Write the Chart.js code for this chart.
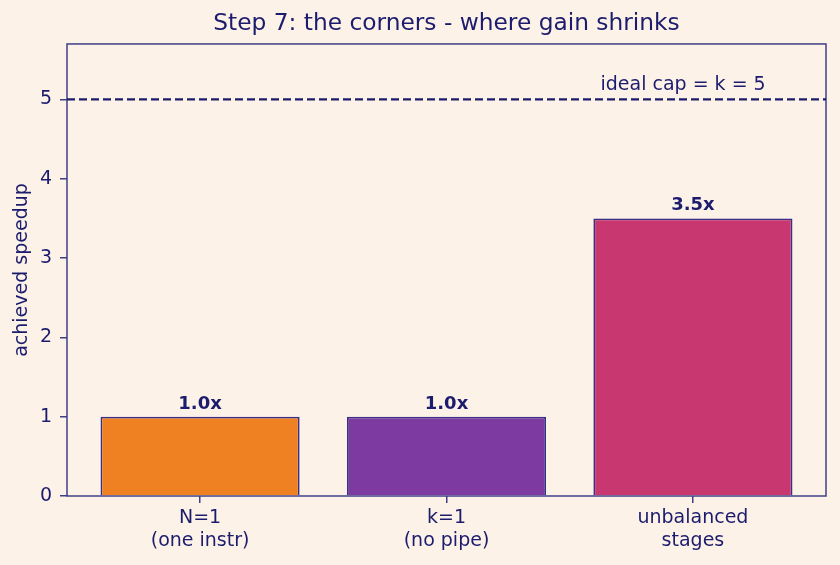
<!DOCTYPE html>
<html>
<head>
<meta charset="utf-8">
<script src="https://cdn.jsdelivr.net/npm/chart.js@4.4.0/dist/chart.umd.min.js"></script>
<style>
  html, body { margin: 0; padding: 0; background: #fdf2e7; }
  #wrap { width: 840px; height: 565px; }
</style>
</head>
<body>
<div id="wrap"><canvas id="myChart" width="840" height="565"></canvas></div>
<script>
// data
const categories = [['N=1', '(one instr)'], ['k=1', '(no pipe)'], ['unbalanced', 'stages']];
const speedups = [1.0, 1.0, 3.5];
const barColors = ['#f08122', '#7d3ba1', '#c8376f'];
const idealCap = 5;
const capLabel = 'ideal cap = k = 5';
const yTicks = [0, 1, 2, 3, 4, 5];

const navy = '#1c1c6e';
const frame = '#3f3f88';
const font = "'DejaVu Sans', sans-serif";

const xMin = -0.54, xMax = 2.54;

// outline of the plot box + labels on bars + cap label
const extras = {
  id: 'extras',
  beforeDatasetsDraw(chart) {
    const a = chart.chartArea, c = chart.ctx;
    c.save();
    c.strokeStyle = frame;
    c.lineWidth = 1.5;
    c.strokeRect(a.left, a.top, a.right - a.left, a.bottom - a.top);
    c.restore();
  },
  afterDatasetsDraw(chart) {
    const c = chart.ctx;
    const x = chart.scales.x, y = chart.scales.y;
    const meta = chart.getDatasetMeta(0);
    c.save();
    c.fillStyle = navy;
    c.textAlign = 'center';
    c.textBaseline = 'alphabetic';
    c.font = 'bold 18px ' + font;
    meta.data.forEach((bar, i) => {
      c.fillText(speedups[i].toFixed(1) + 'x', bar.x, bar.y - 8);
    });
    c.font = '19px ' + font;
    c.fillText(capLabel, x.getPixelForValue(1.96), y.getPixelForValue(idealCap) - 9);
    c.restore();
  }
};

const ctx = document.getElementById('myChart').getContext('2d');

const myChart = new Chart(ctx, {
  type: 'bar',
  data: {
    datasets: [
      {
        type: 'bar',
        data: speedups.map((v, i) => ({ x: i, y: v })),
        backgroundColor: barColors,
        borderColor: '#3a2f86',
        borderWidth: 1.8,
        barPercentage: 0.808,
        categoryPercentage: 1.0,
        order: 2,
      },
      {
        type: 'line',
        data: [{ x: xMin, y: idealCap }, { x: xMax, y: idealCap }],
        borderColor: navy,
        borderWidth: 2.3,
        borderDash: [8, 4],
        pointRadius: 0,
        fill: false,
        order: 1,
      },
    ],
  },
  options: {
    responsive: false,
    animation: false,
    layout: { padding: { left: 0, right: 14, top: 0, bottom: 0 } },
    plugins: {
      legend: { display: false },
      tooltip: { enabled: false },
      title: {
        display: true,
        fullSize: false,
        text: 'Step 7: the corners - where gain shrinks',
        color: navy,
        font: { family: font, size: 23.3, weight: 'normal' },
        padding: { top: 10, bottom: 6 },
      },
    },
    scales: {
      x: {
        type: 'linear',
        min: xMin,
        max: xMax,
        offset: false,
        afterBuildTicks: (s) => { s.ticks = s.ticks.filter(t => Number.isInteger(t.value) && t.value >= 0 && t.value < categories.length); },
        afterFit: (s) => { s.height = 69; },
        ticks: {
          stepSize: 1,
          color: navy,
          font: { family: font, size: 19 },
          padding: 4,
          maxRotation: 0,
          autoSkip: false,
          callback: (v) => categories[v],
        },
        grid: { drawOnChartArea: false, offset: false, color: frame, tickLength: 7, lineWidth: 1.5 },
        border: { display: false },
      },
      y: {
        min: 0,
        max: 5.7,
        afterBuildTicks: (s) => { s.ticks = yTicks.map(v => ({ value: v })); },
        afterFit: (s) => { s.width = 67; },
        ticks: {
          color: navy,
          font: { family: font, size: 19 },
          padding: 8,
        },
        grid: { drawOnChartArea: false, color: frame, tickLength: 7, lineWidth: 1.5 },
        border: { display: false },
        title: {
          display: true,
          text: 'achieved speedup',
          color: navy,
          font: { family: font, size: 19 },
          padding: { top: 10.5, bottom: 0 },
        },
      },
    },
  },
  plugins: [extras],
});
</script>
</body>
</html>
